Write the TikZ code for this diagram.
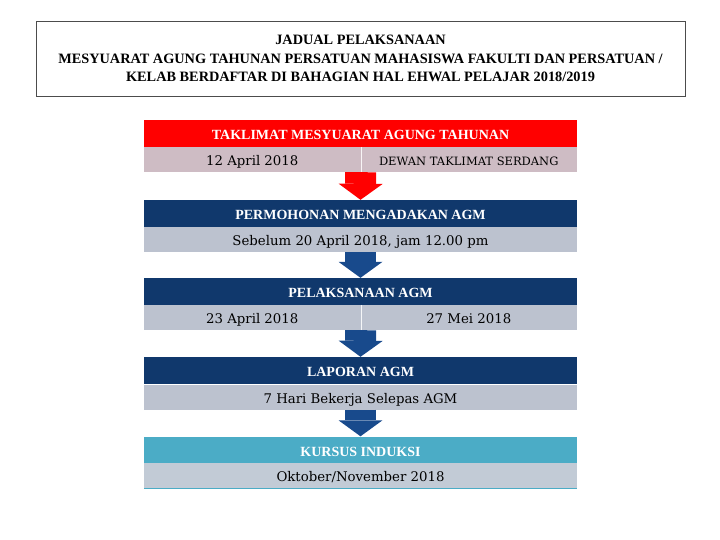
\documentclass[tikz,border=0pt]{standalone}
\usepackage{fontspec}
\setmainfont{Liberation Serif}
\newfontfamily\rowfont{DejaVu Serif}
\usetikzlibrary{arrows.meta}

\definecolor{hdrred}{RGB}{255,0,0}
\definecolor{hdrblue}{RGB}{16,56,108}
\definecolor{arrblue}{RGB}{24,74,140}
\definecolor{hdrteal}{RGB}{75,172,198}
\definecolor{rowpink}{RGB}{206,188,196}
\definecolor{rowgrey}{RGB}{188,194,207}
\definecolor{rowlast}{RGB}{194,203,214}

\begin{document}
\begin{tikzpicture}
      [x=1pt,y=-1pt,
       every node/.style={inner sep=0pt},
       hdr/.style={minimum width=433pt,minimum height=27pt,text=white,
         text height=12pt,text depth=0pt,
         font=\fontsize{14}{16}\selectfont\bfseries},
       row/.style={minimum width=433pt,minimum height=25pt,
         text height=13pt,text depth=1pt,
         font=\rowfont\fontsize{13.3}{16}\selectfont},
       cell/.style={row,minimum width=216.5pt},
       blockarrow/.style={line width=31pt,
         -{Triangle[width=44pt,length=16pt,line width=0pt]}}]
      \useasboundingbox (0,0) rectangle (720,540);

      \node (title) at (360.5,58.5) [draw=black!70,line width=0.8pt,
        minimum width=649pt,minimum height=75pt,align=center,
        font=\fontsize{14.3}{18.5}\selectfont\bfseries]
        {JADUAL PELAKSANAAN\\
         MESYUARAT AGUNG TAHUNAN PERSATUAN MAHASISWA FAKULTI DAN PERSATUAN /\\
         KELAB BERDAFTAR DI BAHAGIAN HAL EHWAL PELAJAR 2018/2019};

      \node (h1) at (360.5,133.5) [hdr,fill=hdrred] {TAKLIMAT MESYUARAT AGUNG TAHUNAN};
      \node (r1a) at (252.25,159.5) [cell,fill=rowpink] {12 April 2018};
      \node (r1b) at (468.75,159.5) [cell,fill=rowpink,text height=14pt,
        font=\rowfont\fontsize{11.5}{14}\selectfont] {DEWAN TAKLIMAT SERDANG};

      \node (h2) at (360.5,213.5) [hdr,fill=hdrblue] {PERMOHONAN MENGADAKAN AGM};
      \node (r2) at (360.5,239.5) [row,fill=rowgrey] {Sebelum 20 April 2018, jam 12.00 pm};

      \node (h3) at (360.5,291.5) [hdr,fill=hdrblue] {PELAKSANAAN AGM};
      \node (r3a) at (252.25,317.5) [cell,fill=rowgrey] {23 April 2018};
      \node (r3b) at (468.75,317.5) [cell,fill=rowgrey] {27 Mei 2018};

      \node (h4) at (360.5,370.5) [hdr,fill=hdrblue] {LAPORAN AGM};
      \node (r4) at (360.5,397) [row,fill=rowgrey] {7 Hari Bekerja Selepas AGM};

      \node (h5) at (360.5,450) [hdr,fill=hdrteal] {KURSUS INDUKSI};
      \node (r5) at (360.5,475.5) [row,fill=rowlast] {Oktober/November 2018};

      \draw [white!85!rowpink] (r1a.north east) -- (r1a.south east);
      \draw [white!85!rowgrey] (r3a.north east) -- (r3a.south east);
      \draw [hdrteal] (r5.south west) -- (r5.south east);

      \draw [blockarrow,hdrred] (r1a.south east) -- (h2.north);
      \foreach \from/\to in {r2.south/h3, r3a.south east/h4, r4.south/h5}
      \draw [blockarrow,arrblue] (\from) -- (\to.north);
    \end{tikzpicture}
\end{document}
